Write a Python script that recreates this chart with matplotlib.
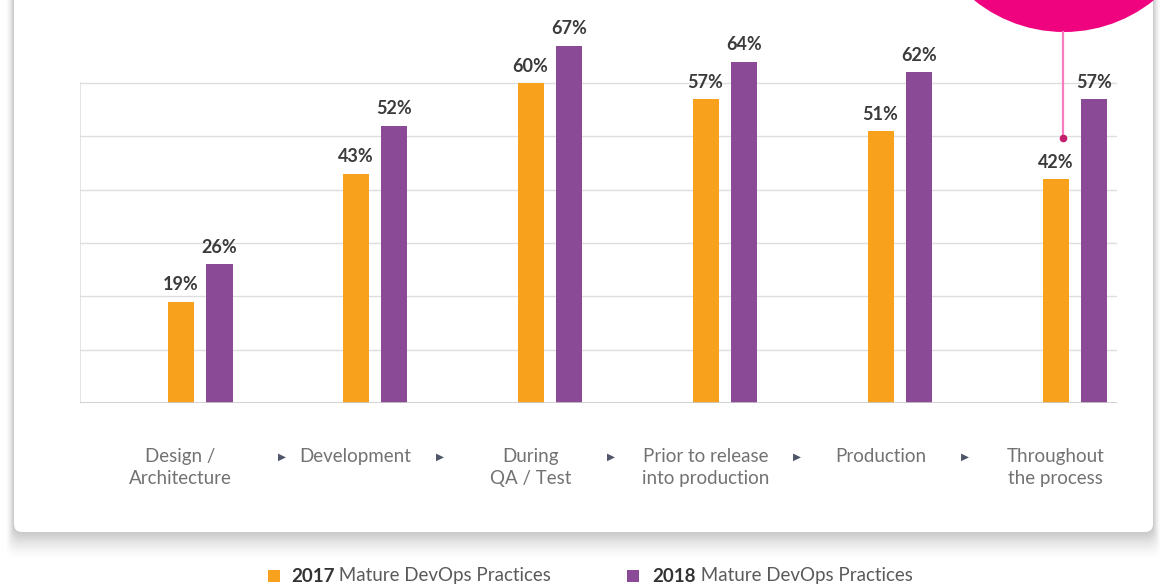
import numpy as np
import matplotlib.pyplot as plt
from matplotlib.patches import FancyBboxPatch, Circle, Rectangle

# data
categories = ['Design /\nArchitecture', 'Development', 'During\nQA / Test',
              'Prior to release\ninto production', 'Production', 'Throughout\nthe process']
v2017 = [19, 43, 60, 57, 51, 42]
v2018 = [26, 52, 67, 64, 62, 57]
series = ['2017', '2018']
legend_rest = ' Mature DevOps Practices'
arrow_pos = [0.47, 1.37, 2.35, 3.41, 4.37]

ORANGE = '#f8a11c'
PURPLE = '#8a4a95'
MAGENTA = '#f0037f'

plt.rcParams['font.family'] = ['Lato', 'DejaVu Sans']

W, H = 1167, 587
fig = plt.figure(figsize=(W / 100, H / 100), dpi=100)
fig.patch.set_facecolor('white')

# background axes in pixel coords (card + shadow)
bg = fig.add_axes([0, 0, 1, 1], zorder=0)
bg.set_xlim(0, W)
bg.set_ylim(H, 0)
bg.axis('off')
for i in range(14):
    a = 0.06 * (1 - i / 14)
    bg.add_patch(FancyBboxPatch((14 - i * 0.6, -40), 1139 + i * 1.2, 572 + i * 2.1,
                                boxstyle='round,pad=0,rounding_size=10',
                                fc='#6f6f6f', ec='none', alpha=a))
bg.add_patch(FancyBboxPatch((14, -40), 1139, 572, boxstyle='round,pad=0,rounding_size=8',
                            fc='white', ec='none'))

# chart axes
ax = fig.add_axes([80 / W, (H - 403) / H, 1037 / W, 400 / H], zorder=1)
ax.patch.set_visible(False)
x = np.arange(len(categories))
ax.set_xlim(-0.686, 5.24)
ax.set_ylim(0, 75)
for s in ax.spines.values():
    s.set_visible(False)
ax.set_xticks([])
ax.set_yticks([])

for g in range(10, 70, 10):
    ax.axhline(g, color='#dedede', lw=1, zorder=0)
ax.axhline(0, color='#c9c9c9', lw=1.2, zorder=3)
ax.plot([-0.686, -0.686], [0, 60], color='#dedede', lw=1.2, zorder=0)

off = 0.111
bw = 0.149
b1 = ax.bar(x - off, v2017, bw, color=ORANGE, zorder=2)
b2 = ax.bar(x + off, v2018, bw, color=PURPLE, zorder=2)
for bars, vals in ((b1, v2017), (b2, v2018)):
    for r, v in zip(bars, vals):
        ax.annotate(f'{v}%', (r.get_x() + r.get_width() / 2, v), xytext=(0, 6),
                    textcoords='offset points', ha='center', va='bottom',
                    fontsize=13, fontweight='bold', color='#3b3b3b')

for xi, lab in zip(x, categories):
    ax.text(xi - off, -8.4, lab, ha='center', va='top', fontsize=13.5,
            color='#727272', linespacing=1.38, clip_on=False)
for ap in arrow_pos:
    ax.text(ap, -10.1, '\u25B6', ha='center', va='center', fontsize=7.5,
            color='#50566a', family='DejaVu Sans', clip_on=False)

# overlay: callout circle, line and legend in pixel coords
ov = fig.add_axes([0, 0, 1, 1], zorder=3)
ov.set_xlim(0, W)
ov.set_ylim(H, 0)
ov.axis('off')
ov.add_patch(Circle((1064, -111), 143, fc=MAGENTA, ec='none'))
ov.plot([1063, 1063], [32, 138], color='#f57dbd', lw=1.6)
ov.plot([1063], [138], 'o', color='#c41f6c', ms=4.5)

for sx, tx, name, c in ((268, 291, series[0], ORANGE), (627, 652, series[1], PURPLE)):
    ov.add_patch(Rectangle((sx, 570), 12, 12, fc=c, ec='none'))
    t = ov.text(tx, 576, name, ha='left', va='center', fontsize=13.5,
                fontweight='bold', color='#333333')
    ov.annotate(legend_rest, xy=(1, 0.5), xycoords=t, ha='left', va='center',
                fontsize=13.5, color='#5a5a5a')

fig.savefig('out.png', dpi=100)
